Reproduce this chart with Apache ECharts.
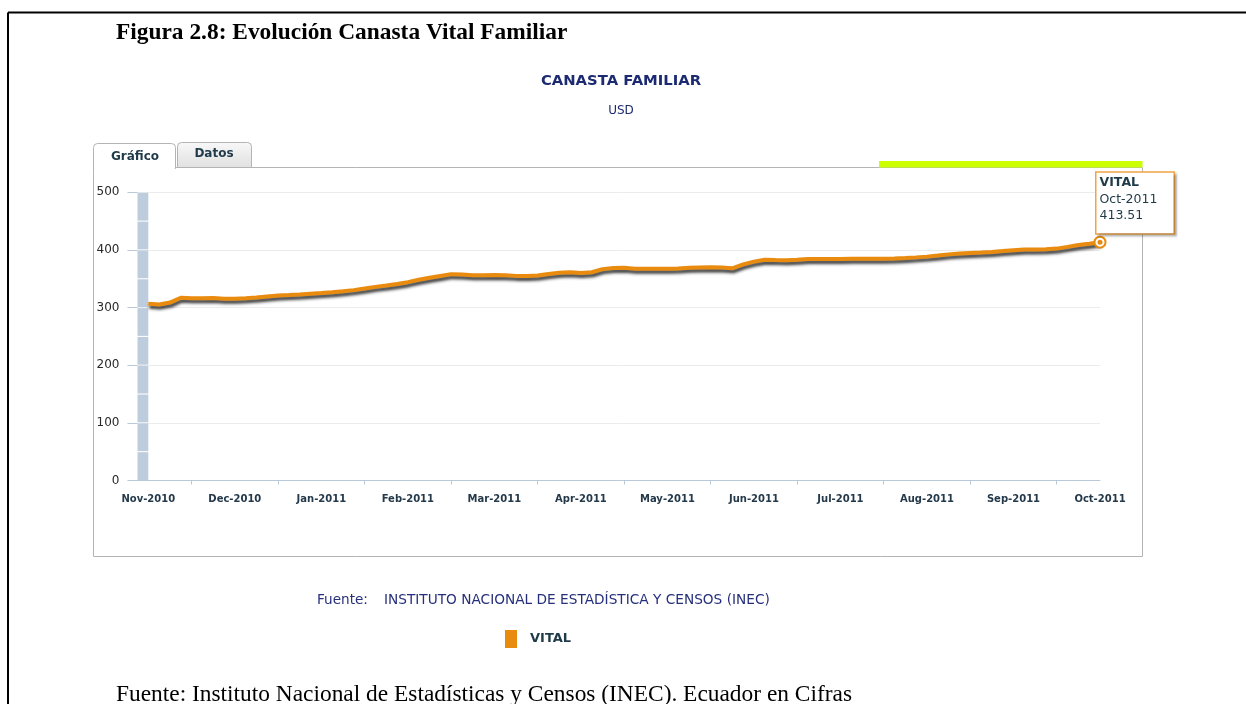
<!DOCTYPE html>
<html>
<head>
<meta charset="utf-8">
<script src="https://cdn.jsdelivr.net/npm/echarts@6/dist/echarts.min.js"></script>
<style>
html,body{margin:0;padding:0;background:#fff;}
#c{width:1246px;height:704px;}
</style>
</head>
<body>
<div id="c"></div>
<script>
// ---- data ----
const monthLabels = ['Nov-2010','Dec-2010','Jan-2011','Feb-2011','Mar-2011','Apr-2011',
                     'May-2011','Jun-2011','Jul-2011','Aug-2011','Sep-2011','Oct-2011'];
const stepsPerMonth = 8;           // readings per month on the x axis
const seriesName = 'VITAL';
const vital = [
  306.5, 305.5, 308.7, 317.0, 316.2, 316.3, 316.5, 315.2,
  315.5, 316.0, 317.3, 319.3, 321.0, 321.8, 322.8, 324.1,
  325.4, 326.8, 328.4, 330.3, 333.0, 335.9, 338.3, 341.0,
  344.1, 348.2, 351.7, 354.9, 358.0, 357.2, 356.1, 356.3,
  356.6, 356.2, 355.0, 354.9, 355.8, 358.2, 360.3, 361.4,
  360.1, 361.3, 366.7, 368.5, 369.3, 367.5, 367.5, 367.5,
  367.5, 368.0, 369.0, 369.6, 370.1, 369.4, 368.2, 375.0,
  379.7, 383.1, 382.6, 382.2, 383.0, 384.3, 384.3, 384.3,
  384.3, 384.5, 384.6, 384.7, 384.8, 385.0, 386.0, 387.1,
  388.4, 390.3, 392.3, 393.9, 394.7, 395.5, 396.5, 398.0,
  399.6, 400.7, 400.7, 401.1, 402.3, 405.3, 408.4, 410.9,
  413.51
];
const yMin = 0, yMax = 500, yStep = 100;
const bandStep = 50;   // segments of the highlighted column

// ---- build ----
const ORANGE = '#e98b0e';
const DARK = '#1f3a48';
const NAVY = '#1c2a72';
const categories = ['lead'].concat(vital.map((v, i) => 'p' + i));
const lastIdx = vital.length - 1;

const seriesData = ['-'].concat(vital.map((v, i) => {
  if (i !== lastIdx) return v;
  return {
    value: v,
    symbol: 'circle',
    symbolSize: 11,
    itemStyle: { color: '#fff', borderColor: ORANGE, borderWidth: 2 },
    label: {
      show: true,
      position: [3, -63],
      formatter: (p) => '{b|' + p.seriesName + '}\n' + monthLabels[monthLabels.length - 1] + '\n' + p.value,
      fontFamily: 'DejaVu Sans',
      fontSize: 12.5,
      lineHeight: 16.5,
      color: DARK,
      backgroundColor: '#fff',
      borderColor: '#f0a445',
      borderWidth: 1.5,
      padding: [2, 4, 9, 3],
      width: 70,
      shadowColor: 'rgba(0,0,0,0.22)',
      shadowBlur: 2,
      shadowOffsetX: 2,
      shadowOffsetY: 2,
      rich: {
        b: { fontFamily: 'DejaVu Sans', fontWeight: 'bold', fontSize: 12.5, lineHeight: 16.5, color: DARK }
      }
    }
  };
}));

const bandData = [];
for (let v = yMin; v < yMax; v += bandStep) {
  bandData.push([{ xAxis: categories[0], yAxis: v + 0.9 }, { xAxis: categories[1], yAxis: v + bandStep - 0.9 }]);
}

const chart = echarts.init(document.getElementById('c'), null, { renderer: 'canvas' });
chart.setOption({
  animation: false,
  backgroundColor: '#fff',
  grid: { left: 137.5, right: 146, top: 192.3, bottom: 223.5, containLabel: false },
  legend: {
    data: [seriesName], left: 505, top: 630, padding: 0, icon: 'rect',
    itemWidth: 12, itemHeight: 18, selectedMode: false,
    textStyle: { fontFamily: 'DejaVu Sans', fontWeight: 'bold', fontSize: 13, color: DARK, padding: [0, 0, 0, 8] }
  },
  xAxis: {
    type: 'category', data: categories, boundaryGap: false,
    axisLine: { lineStyle: { color: '#b9c9da', width: 1 } },
    axisTick: {
      show: true, length: 4,
      interval: (i) => i > 0 && (i - 1) % stepsPerMonth === stepsPerMonth / 2,
      lineStyle: { color: '#b9c9da' }
    },
    axisLabel: {
      interval: (i) => i > 0 && (i - 1) % stepsPerMonth === 0,
      formatter: (v, i) => monthLabels[(i - 1) / stepsPerMonth] || '',
      margin: 14, color: '#24394a', fontFamily: 'DejaVu Sans', fontWeight: 'bold', fontSize: 10
    },
    splitLine: { show: false }
  },
  yAxis: {
    type: 'value', min: yMin, max: yMax, interval: yStep,
    axisLine: { show: false },
    axisTick: { show: true, length: 10, lineStyle: { color: '#b9c9da' } },
    axisLabel: { margin: 18, color: '#2a2a2a', fontFamily: 'DejaVu Sans', fontSize: 12 },
    splitLine: { lineStyle: { color: '#ececec' } }
  },
  series: [{
    name: seriesName,
    type: 'line',
    data: seriesData,
    symbol: 'none',
    clip: false,
    itemStyle: { color: ORANGE },
    lineStyle: {
      color: ORANGE, width: 4,
      shadowColor: 'rgba(25,25,25,0.85)', shadowBlur: 3, shadowOffsetX: 1, shadowOffsetY: 3
    },
    markArea: {
      silent: true,
      itemStyle: { color: '#bdcddd', borderWidth: 0 },
      label: { show: false },
      data: bandData
    },
    markPoint: {
      silent: true,
      data: [{
        coord: [categories[categories.length - 1], vital[lastIdx]],
        symbol: 'circle', symbolSize: 5,
        itemStyle: { color: ORANGE },
        label: { show: false }
      }]
    }
  }],
  graphic: [
    // outer document frame
    { type: 'line', z: -10, shape: { x1: 8, y1: 12.5, x2: 1246, y2: 12.5 }, style: { stroke: '#000', lineWidth: 2 } },
    { type: 'line', z: -10, shape: { x1: 8, y1: 12.5, x2: 8, y2: 704 }, style: { stroke: '#000', lineWidth: 2 } },
    // document caption
    { type: 'text', left: 116, top: 21, style: { text: 'Figura 2.8: Evolución Canasta Vital Familiar', font: 'bold 23.4px "Liberation Serif"', fill: '#000' } },
    // chart titles
    { type: 'text', z: 5, style: { x: 621, y: 81, text: 'CANASTA FAMILIAR', align: 'center', verticalAlign: 'middle', font: 'bold 14.8px "DejaVu Sans"', fill: NAVY } },
    { type: 'text', z: 5, style: { x: 621, y: 111, text: 'USD', align: 'center', verticalAlign: 'middle', font: '12px "DejaVu Sans"', fill: NAVY } },
    // panel
    { type: 'rect', z: -10, shape: { x: 93.5, y: 167.5, width: 1049, height: 389 }, style: { fill: 'none', stroke: '#b4b4b4', lineWidth: 1 } },
    // tab Datos
    { type: 'rect', z: -9, shape: { x: 177.5, y: 142.5, width: 74, height: 25, r: [4, 4, 0, 0] },
      style: { fill: new echarts.graphic.LinearGradient(0, 0, 0, 1, [{ offset: 0, color: '#f8f8f8' }, { offset: 1, color: '#e0e0e0' }]), stroke: '#b4b4b4', lineWidth: 1 } },
    // tab Gráfico (active)
    { type: 'rect', z: -9, shape: { x: 93.5, y: 143.5, width: 82, height: 25, r: [4, 4, 0, 0] }, style: { fill: '#fff', stroke: '#b4b4b4', lineWidth: 1 } },
    { type: 'rect', z: -8, shape: { x: 94.2, y: 166.5, width: 80.6, height: 3 }, style: { fill: '#fff' } },
    { type: 'text', z: 5, style: { x: 135, y: 157, text: 'Gráfico', align: 'center', verticalAlign: 'middle', font: 'bold 12px "DejaVu Sans"', fill: DARK } },
    { type: 'text', z: 5, style: { x: 214, y: 154, text: 'Datos', align: 'center', verticalAlign: 'middle', font: 'bold 12px "DejaVu Sans"', fill: DARK } },
    // green bar
    { type: 'rect', z: -8, shape: { x: 879, y: 161, width: 263.5, height: 6.5 }, style: { fill: '#ccff00' } },
    // source line
    { type: 'text', z: 5, style: { x: 317, y: 600, text: 'Fuente:', verticalAlign: 'middle', font: '13.6px "DejaVu Sans"', fill: '#262f7c' } },
    { type: 'text', z: 5, style: { x: 384, y: 600, text: 'INSTITUTO NACIONAL DE ESTADÍSTICA Y CENSOS (INEC)', verticalAlign: 'middle', font: '13.7px "DejaVu Sans"', fill: '#262f7c' } },
    // document footer
    { type: 'text', z: 5, style: { x: 116, y: 695, text: 'Fuente: Instituto Nacional de Estadísticas y Censos (INEC). Ecuador en Cifras', verticalAlign: 'middle', font: '23.4px "Liberation Serif"', fill: '#000' } }
  ]
});
</script>
</body>
</html>
